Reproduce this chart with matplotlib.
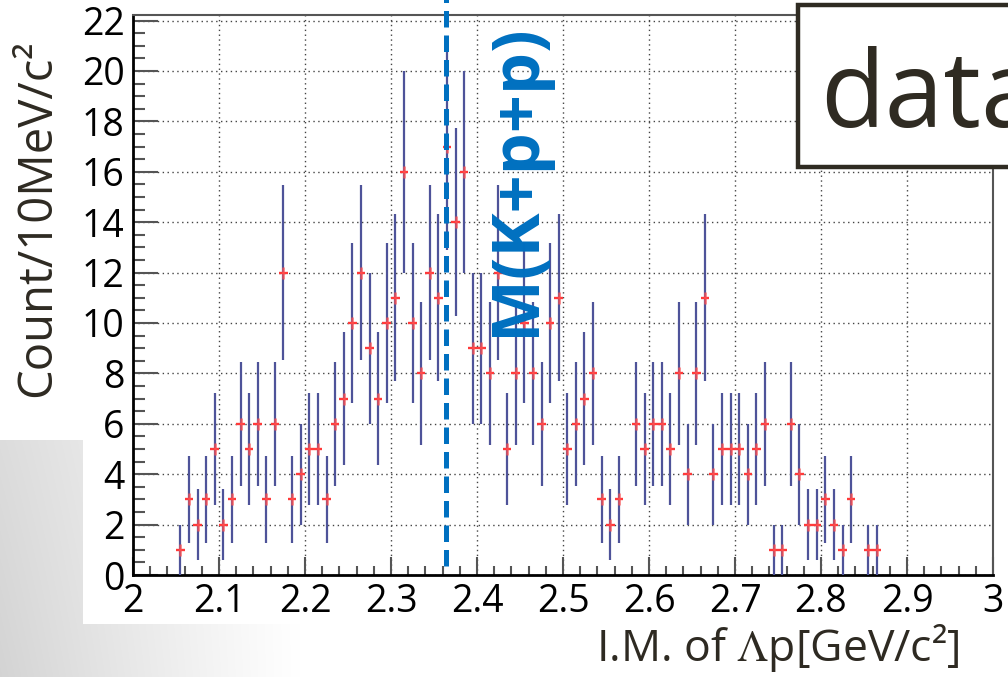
import numpy as np
import matplotlib
matplotlib.use("Agg")
import matplotlib.pyplot as plt
import matplotlib.ticker as mticker
from matplotlib.patches import Rectangle

plt.rcParams['mathtext.fontset'] = 'stix'

# ── Data: counts per 10 MeV bin, 2.00 – 3.00 GeV/c^2 ──────────────────────
bin_lo = 2.0
bin_w = 0.01
counts = [
    0, 0, 0, 0, 0, 1, 3, 2, 3, 5,        # 2.00 – 2.09
    2, 3, 6, 5, 6, 3, 6, 12, 3, 4,       # 2.10 – 2.19
    5, 5, 3, 6, 7, 10, 12, 9, 7, 10,     # 2.20 – 2.29
    11, 16, 10, 8, 12, 11, 17, 14, 16, 9,  # 2.30 – 2.39
    9, 8, 12, 5, 8, 10, 8, 6, 10, 11,    # 2.40 – 2.49
    5, 6, 7, 8, 3, 2, 3, 0, 6, 5,        # 2.50 – 2.59
    6, 6, 5, 8, 4, 8, 11, 4, 5, 5,       # 2.60 – 2.69
    5, 4, 5, 6, 1, 1, 6, 4, 2, 2,        # 2.70 – 2.79
    3, 2, 1, 3, 0, 1, 1, 0, 0, 0,        # 2.80 – 2.89
    0, 0, 0, 0, 0, 0, 0, 0, 0, 0,        # 2.90 – 2.99
]
threshold = 2.3637          # M(K+p+p) line
x_ticks = [2.0, 2.1, 2.2, 2.3, 2.4, 2.5, 2.6, 2.7, 2.8, 2.9, 3.0]
y_ticks = list(range(0, 23, 2))

counts = np.array(counts, dtype=float)
centers = bin_lo + bin_w * (np.arange(len(counts)) + 0.5)
mask = counts > 0
xc, yc = centers[mask], counts[mask]
err = np.sqrt(yc)

W, H = 1008, 677
fig = plt.figure(figsize=(W / 100, H / 100), dpi=100)

# ── Slide background: grey gradient in lower-left corner ───────────────────
bg = fig.add_axes([0, 0, 1, 1], zorder=-10)
xx, yy = np.meshgrid(np.arange(W), np.arange(H))
g = 1 - 0.17 * np.clip(1 - xx / 300, 0, 1) ** 1.1 * (0.8 + 0.2 * np.clip((yy - 440) / 237, 0, 1))
g[(xx >= 83) & (yy <= 623)] = 1
g[(xx < 83) & (yy < 440)] = 1
bg.imshow(np.dstack([g, g, g]), aspect='auto', extent=[0, W, H, 0])
bg.axis('off')

# ── Main axes ──────────────────────────────────────────────────────────────
ax = fig.add_axes([133 / W, (H - 575) / H, 860 / W, 560 / H])
ax.set_facecolor('white')
ax.set_xlim(2.0, 3.0)
ax.set_ylim(0, 22.22)

ax.errorbar(xc, yc, yerr=err, fmt='none', ecolor='#4e5399', elinewidth=1.6,
            capsize=0, zorder=3)
ax.errorbar(xc, yc, xerr=bin_w / 2, fmt='none', ecolor='#ff3a3a', elinewidth=1.7,
            capsize=0, zorder=4)
ax.plot(xc, yc, ls='none', marker='|', ms=9, mew=1.8, color='#ff5050', alpha=0.8, zorder=5)

# threshold dashed line, runs above the frame
ax.plot([threshold, threshold], [0.36, 22.9], color='#0070c0', lw=3.6,
        dashes=(3.3, 1.6), clip_on=False, zorder=6)

ax.set_xticks(x_ticks)
ax.set_yticks(y_ticks)
ax.xaxis.set_minor_locator(mticker.MultipleLocator(0.02))
ax.yaxis.set_minor_locator(mticker.MultipleLocator(0.5))
ax.xaxis.set_major_formatter(mticker.FuncFormatter(lambda v, _: f"{v:g}"))
ax.grid(True, which='major', ls=(0, (1, 2.5)), color='#444444', lw=1.0)
ax.set_axisbelow(True)

ax.tick_params(axis='both', which='both', direction='in', colors='#555555',
               labelcolor='black', width=1.5, labelsize=27)
ax.tick_params(axis='y', which='major', length=18, pad=6)
ax.tick_params(axis='y', which='minor', length=8.5)
ax.tick_params(axis='x', which='major', length=13, pad=6)
ax.tick_params(axis='x', which='minor', length=6.5)
for lab in ax.get_xticklabels() + ax.get_yticklabels():
    lab.set_family('Open Sans')

for side in ['left', 'bottom']:
    ax.spines[side].set_linewidth(2)
    ax.spines[side].set_color('black')
for side in ['top', 'right']:
    ax.spines[side].set_linewidth(1.5)
    ax.spines[side].set_color('#555555')

# ── Labels ─────────────────────────────────────────────────────────────────
fig.text(37 / W, 1 - 218 / H, "Count/10MeV/c²", rotation=90, ha='center', va='center',
         fontsize=34, family='Open Sans', color='#2e2a22')
fig.text(960 / W, 1 - 648 / H, r"I.M. of $\mathrm{\Lambda}$p[GeV/c²]", ha='right',
         va='center', fontsize=32, family='Open Sans', color='#2e2a22')

fig.text(516 / W, 1 - 180 / H, "M(K+p+p)", rotation=90, ha='center', va='center',
         fontsize=48, family='Open Sans', weight='bold', color='#0070c0', zorder=20)

# ── "data" box (cut by the right edge, as in the slide) ────────────────────
fig.add_artist(Rectangle((798 / W, 1 - 167 / H), 300 / W, 162 / H,
                         transform=fig.transFigure, facecolor='white',
                         edgecolor='#2f2b22', lw=3.2, zorder=15, clip_on=False))
fig.text(820 / W, 1 - 127 / H, "data", ha='left', va='baseline', fontsize=76,
         family='Open Sans', color='#2f2b22', zorder=16)

fig.savefig("out.png", dpi=100)
